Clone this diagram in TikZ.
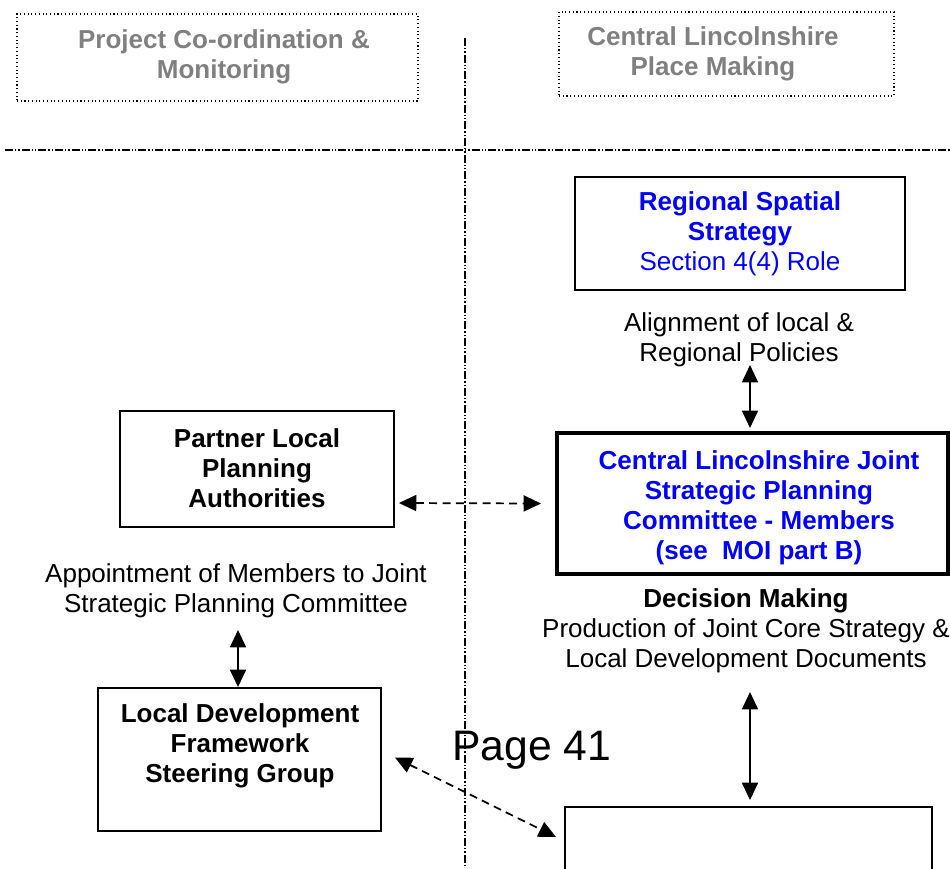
\documentclass[tikz,border=0pt]{standalone}
\usepackage{fontspec}
\setmainfont{Liberation Sans}
\usepackage{xcolor}
\usepackage{tikz}
\usetikzlibrary{arrows.meta,calc}
\definecolor{rssblue}{HTML}{0000FF}
\definecolor{headgray}{HTML}{808080}
\tikzset{
  base/.style={font=\fontsize{19.5}{22.5}\selectfont, align=center, inner sep=0pt},
  bold/.style={base, font=\fontsize{19.5}{22.5}\selectfont\bfseries},
  headbox/.style={bold, draw, dotted, thick, text=headgray},
  orgbox/.style={base, draw, line width=1.4pt},
  keybox/.style={base, draw, line width=3pt},
  link/.style={<->, line width=1.3pt},
  dashlink/.style={link, dash pattern=on 6pt off 4pt},
  divider/.style={line width=0.8pt, dash pattern=on 6pt off 1.5pt on 1pt off 1.5pt on 1pt off 1.5pt}
}

\begin{document}
\begin{tikzpicture}[x=0.75pt, y=-0.75pt, >={Triangle[length=13pt,width=12pt]}]
\useasboundingbox (0,0) rectangle (950,868);
% column headings
\node[headbox, minimum width=401*0.75pt, minimum height=87*0.75pt] (coord) at (217.5,57.5) {};
\node[bold, text=headgray] (coordtxt) at (224,57) {Project Co-ordination \&\\ Monitoring};
\node[headbox, minimum width=335*0.75pt, minimum height=84*0.75pt] (place) at (726.5,54) {};
\node[bold, text=headgray] (placetxt) at (713,54) {Central Lincolnshire\\ Place Making};
% dividing lines
\coordinate (vtop) at (465,38); \coordinate (vbot) at (465,868);
\coordinate (hleft) at (5,150); \coordinate (hright) at (950,150);
\draw[divider] (vtop) -- (vbot);
\draw[divider] (hleft) -- (hright);
% right column
\node[orgbox, minimum width=330*0.75pt, minimum height=113*0.75pt] (rss) at (740,233.5) {};
\node[base, text=rssblue] (rsstxt) at (rss) {\textbf{Regional Spatial}\\ \textbf{Strategy}\\ Section 4(4) Role};
\node[base] (align) at (739,340) {Alignment of local \&\\ Regional Policies};
\node[keybox, minimum width=391*0.75pt, minimum height=141*0.75pt] (jspc) at (752.5,503.5) {};
\node[bold, text=rssblue] (jspctxt) at (759,508) {Central Lincolnshire Joint\\ Strategic Planning\\ Committee - Members\\ (see\ \ MOI part B)};
\node[base] (decide) at (746,631) {\textbf{Decision Making}\\ Production of Joint Core Strategy \&\\ Local Development Documents};
\node[orgbox, minimum width=367*0.75pt, minimum height=100*0.75pt] (lower) at (748.5,857) {};
% left column
\node[orgbox, minimum width=274*0.75pt, minimum height=116*0.75pt] (partner) at (257,469) {};
\node[bold] (partnertxt) at (257,468) {Partner Local\\ Planning\\ Authorities};
\node[base] (appoint) at (236,591) {Appointment of Members to Joint\\ Strategic Planning Committee};
\node[orgbox, minimum width=283*0.75pt, minimum height=143*0.75pt] (ldf) at (239.5,759.5) {};
\node[bold] (ldftxt) at (240,746) {Local Development\\ Framework\\ Steering Group};
% links
\coordinate (a1) at (750,365);
\coordinate (a2) at (750,692);
\coordinate (a3) at (238,630);
\draw[link] (a1) -- ($(a1 |- jspc.north)+(0,-3)$);
\draw[link] (a2) -- ($(a2 |- lower.north)+(0,-6)$);
\draw[link] (a3) -- (a3 |- ldf.north);
\draw[dashlink] ($(partner.east)+(4,34)$) -- ($(jspc.west)+(-14,0)$);
\draw[dashlink] ($(ldf.east)+(13,-2)$) -- ($(lower.west)+(-8,-20)$);
% page number
\node[font=\fontsize{32}{36}\selectfont, inner sep=0pt] (page) at (532,750) {Page 41};
\end{tikzpicture}
\end{document}
